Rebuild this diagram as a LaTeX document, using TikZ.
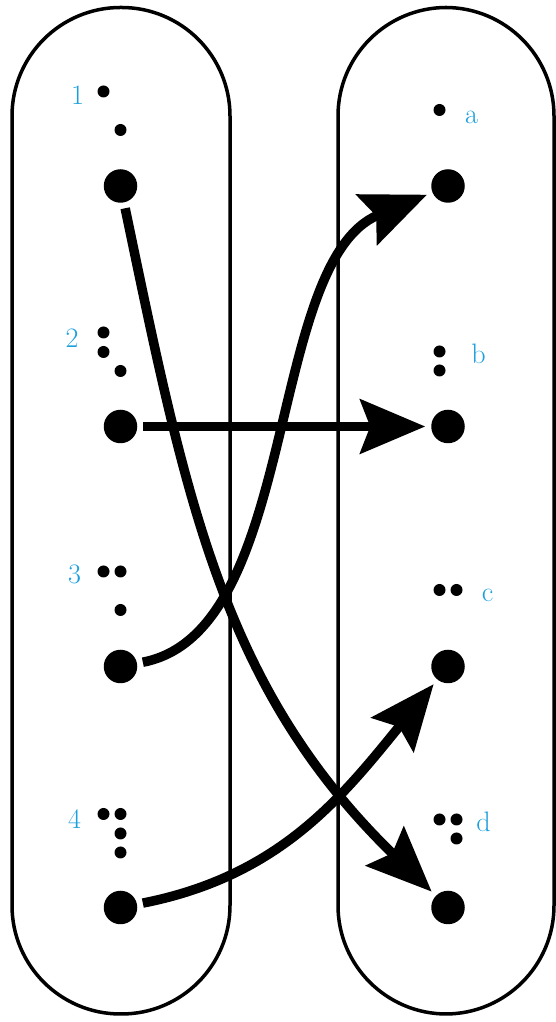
\documentclass[tikz,border=0pt]{standalone}
\usetikzlibrary{arrows.meta}
\begin{document}
\begin{tikzpicture}[x=1cm,y=1cm, line join=round]
  \definecolor{Ink}{HTML}{000000}
  \definecolor{TagBlue}{HTML}{1B9FDE}

  \tikzset{
    panel/.style={rounded corners=2.17cm, draw=Ink, line width=0.07cm},
    bigdot/.style={circle, fill=Ink, inner sep=0pt, minimum size=0.67cm, outer sep=0.12cm},
    tag/.style={anchor=base, inner sep=0pt, text=TagBlue, font=\fontsize{16}{19}\selectfont},
    link/.style={-{Stealth[length=1.3cm, width=1.08cm, inset=0.2cm]}, line width=0.19cm, draw=Ink}
  }

  \useasboundingbox (0,0) rectangle (11.12,20.44);

  % The two sets
  \draw[panel] (0.24,0.16) rectangle (4.60,20.29);
  \draw[panel] (6.76,0.16) rectangle (11.08,20.29);

  % Elements
  \foreach \name/\y in {1/16.72, 2/11.91, 3/7.11, 4/2.29} {
    \node[bigdot] (n\name) at (2.41,\y) {};
  }
  \foreach \name/\y in {a/16.72, b/11.91, c/7.11, d/2.29} {
    \node[bigdot] (l\name) at (8.96,\y) {};
  }

  % Braille cells: digits
  \foreach \x/\y in {2.07/18.61, 2.41/17.84,
                     2.07/13.79, 2.07/13.40, 2.41/13.02,
                     2.07/9.01, 2.41/9.01, 2.41/8.24,
                     2.07/4.16, 2.41/4.16, 2.41/3.77, 2.41/3.39}
    \fill[Ink] (\x,\y) circle (0.12);
  % Braille cells: letters
  \foreach \x/\y in {8.79/18.24,
                     8.79/13.41, 8.79/13.03,
                     8.79/8.64, 9.13/8.64,
                     8.79/4.05, 9.13/4.05, 9.13/3.67}
    \fill[Ink] (\x,\y) circle (0.12);

  % Labels
  \node[tag] (t1) at (1.55,18.35) {1};
  \node[tag] (t2) at (1.44,13.49) {2};
  \node[tag] (t3) at (1.49,8.77) {3};
  \node[tag] (t4) at (1.49,3.87) {4};
  \node[tag] (ta) at (9.43,17.97) {a};
  \node[tag] (tb) at (9.57,13.16) {b};
  \node[tag] (tc) at (9.75,8.40) {c};
  \node[tag] (td) at (9.67,3.81) {d};

  % Mapping
  \draw[link] (n1) .. controls (3.72,10.46) and (4.44,6.68) .. (ld);
  \draw[link] (n2) -- (lb);
  \draw[link] (n3) .. controls (6.00,7.80) and (5.30,15.20) .. (la);
  \draw[link] (n4) .. controls (5.60,2.92) and (6.84,4.50) .. (lc);
\end{tikzpicture}
\end{document}
